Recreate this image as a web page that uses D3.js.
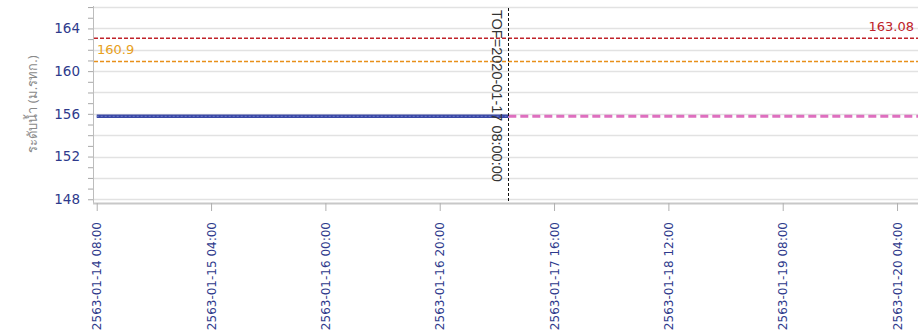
<!DOCTYPE html>
<html><head><meta charset="utf-8">
<script src="https://cdn.jsdelivr.net/npm/d3@7"></script>
<style>body{margin:0;background:#fff}svg{display:block}</style>
</head><body>
<svg id="c" width="924" height="336"></svg>
<script>
// ---- data ----
const obsTimes = ["2020-01-14T08:00","2020-01-14T16:00","2020-01-15T00:00","2020-01-15T08:00","2020-01-15T16:00","2020-01-16T00:00","2020-01-16T08:00","2020-01-16T16:00","2020-01-17T00:00","2020-01-17T08:00"];
const obsValues = [155.77,155.77,155.77,155.77,155.77,155.77,155.77,155.77,155.77,155.77];
const fcTimes = ["2020-01-17T08:00","2020-01-18T08:00","2020-01-19T08:00","2020-01-20T07:40"];
const fcValues = [155.77,155.77,155.77,155.77];
const thresholdValues = [163.08, 160.9];
const thresholdLabels = ["163.08", "160.9"];
const tofTime = "2020-01-17T08:00";
const tofLabel = "TOF=2020-01-17 08:00:00";
const xTickTimes = ["2020-01-14T08:00","2020-01-15T04:00","2020-01-16T00:00","2020-01-16T20:00","2020-01-17T16:00","2020-01-18T12:00","2020-01-19T08:00","2020-01-20T04:00"];
const yTicks = [148,152,156,160,164];
const yTitle = "ระดับน้ำ (ม.รทก.)";

// ---- layout ----
const svg = d3.select("#c");
const L = 93, R = 918, T = 6, B = 203;
const parse = d3.timeParse("%Y-%m-%dT%H:%M");
const x = d3.scaleTime().domain([parse("2020-01-14T07:21"), parse("2020-01-20T07:40")]).range([L, R]);
const y = d3.scaleLinear().domain([147.65, 166.1]).range([B, T]);

const navy = "#2e3a8c";
const grid = d3.range(148, 167, 2);
svg.append("g").selectAll("line").data(grid).join("line")
  .attr("x1", L).attr("x2", R).attr("y1", d => Math.round(y(d)) + 0.5).attr("y2", d => Math.round(y(d)) + 0.5)
  .attr("stroke", "#e2e2e2").attr("stroke-width", 1.5);

// y axis
const yAxis = d3.axisLeft(y).tickValues(d3.range(148, 167, 1)).tickSize(5).tickFormat(d => yTicks.includes(d) ? d : "");
const gy = svg.append("g").attr("transform", `translate(${L},0)`).call(yAxis);
gy.select(".domain").attr("stroke", "#bdbdbd").attr("d", `M0.5,${T}V${B}`);
gy.selectAll(".tick line").attr("stroke", "#a8a8a8").attr("x1", -5).attr("x2", 0);
gy.selectAll(".tick text").attr("fill", navy).attr("font-family", "Tahoma, 'DejaVu Sans', sans-serif").attr("font-size", 13.5).attr("x", -13);

// x axis
const xAxis = d3.axisBottom(x).tickValues(xTickTimes.map(parse)).tickSize(8)
  .tickFormat(d => (d.getFullYear() + 543) + d3.timeFormat("-%m-%d %H:%M")(d));
const gx = svg.append("g").attr("transform", `translate(0,${B})`).call(xAxis);
gx.select(".domain").attr("stroke", "#c8c8c8").attr("stroke-width", 2).attr("d", `M${L},0.5H${R}`);
gx.selectAll(".tick line").attr("stroke", "#b0b0b0");
gx.selectAll(".tick text").attr("fill", navy).attr("font-family", "Tahoma, 'DejaVu Sans', sans-serif").attr("font-size", 12)
  .attr("transform", "rotate(-90)").attr("text-anchor", "end").attr("x", -19).attr("y", 0).attr("dy", "0.35em");

// threshold lines
const thColors = ["#c0222a", "#e8901a"];
thresholdValues.forEach((v, i) => {
  svg.append("line").attr("x1", L + 1).attr("x2", R).attr("y1", y(v)).attr("y2", y(v))
    .attr("stroke", thColors[i]).attr("stroke-width", 1.3).attr("stroke-dasharray", "4,2");
});
svg.append("text").attr("x", R - 4).attr("y", y(thresholdValues[0]) - 7).attr("text-anchor", "end")
  .attr("fill", "#c0222a").attr("font-family", "Tahoma, 'DejaVu Sans', sans-serif").attr("font-size", 13).text(thresholdLabels[0]);
svg.append("text").attr("x", L + 4).attr("y", y(thresholdValues[1]) - 8)
  .attr("fill", "#e8a020").attr("font-family", "Tahoma, 'DejaVu Sans', sans-serif").attr("font-size", 13).text(thresholdLabels[1]);

// forecast line
const line = d3.line().x(d => x(d[0])).y(d => y(d[1]));
const fc = fcTimes.map((t, i) => [parse(t), fcValues[i]]);
svg.append("path").datum(fc).attr("d", line).attr("fill", "none")
  .attr("stroke", "#de6fbf").attr("stroke-width", 3).attr("stroke-dasharray", "8,4");

// observed line
const obs = obsTimes.map((t, i) => [parse(t), obsValues[i]]);
svg.append("path").datum(obs).attr("d", line).attr("fill", "none").attr("stroke", "#3a48a6").attr("stroke-width", 3.5);
svg.append("path").datum(obs).attr("d", line).attr("fill", "none").attr("stroke", "#6f7cc6").attr("stroke-width", 1).attr("stroke-dasharray", "2,2");

// TOF
const tx = Math.round(x(parse(tofTime))) + 0.5;
svg.append("line").attr("x1", tx).attr("x2", tx).attr("y1", T + 2).attr("y2", B)
  .attr("stroke", "#111").attr("stroke-width", 1).attr("stroke-dasharray", "3,2");
svg.append("text").attr("transform", `translate(${tx - 17},10) rotate(90)`)
  .attr("fill", "#333").attr("font-family", "Arial, 'Liberation Sans', sans-serif").attr("font-size", 14.5).text(tofLabel);

// y title
svg.append("text").attr("transform", `translate(37,104) rotate(-90)`).attr("text-anchor", "middle")
  .attr("fill", "#8a8a8a").attr("font-family", "Tahoma, 'Noto Sans', 'DejaVu Sans', sans-serif").attr("font-size", 13).text(yTitle);
</script>
</body></html>
